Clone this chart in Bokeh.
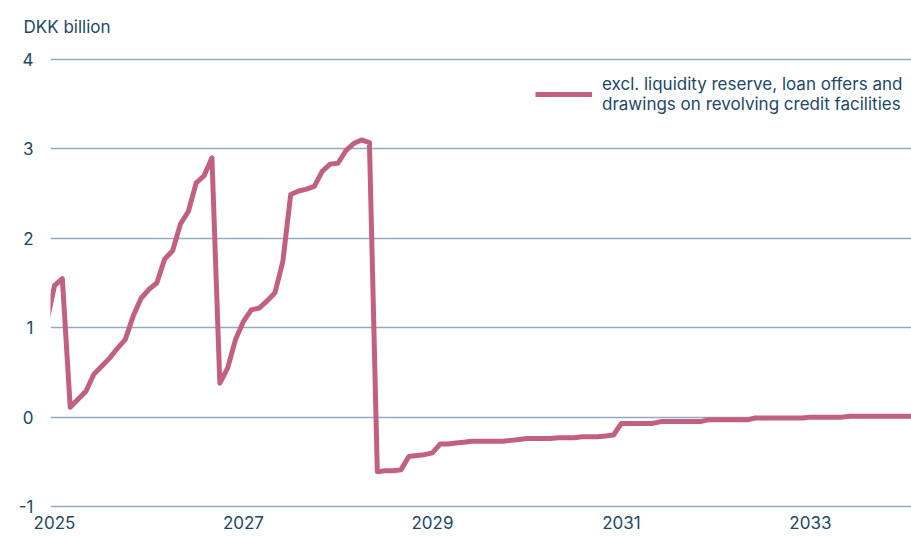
import pandas as pd
from bokeh.plotting import figure
from bokeh.models import Range1d, FixedTicker, Legend, LegendItem, ColumnDataSource
from bokeh.embed import file_html
from bokeh.resources import INLINE

# monthly series, Dec 2024 .. Feb 2034 (DKK billion)
start_month = "2024-12-01"
values = [
    1.05,
    1.47, 1.55, 0.11, 0.20, 0.29, 0.48, 0.57, 0.66, 0.77, 0.87, 1.13, 1.33,   # 2025
    1.43, 1.50, 1.77, 1.86, 2.16, 2.30, 2.62, 2.70, 2.90, 0.38, 0.55, 0.87,   # 2026
    1.07, 1.20, 1.22, 1.30, 1.39, 1.74, 2.49, 2.53, 2.55, 2.58, 2.75, 2.83,   # 2027
    2.84, 2.98, 3.06, 3.10, 3.07, -0.61, -0.60, -0.60, -0.59, -0.44, -0.43, -0.42,  # 2028
    -0.40, -0.30, -0.30, -0.29, -0.28, -0.27, -0.27, -0.27, -0.27, -0.27, -0.26, -0.25,  # 2029
    -0.24, -0.24, -0.24, -0.24, -0.23, -0.23, -0.23, -0.22, -0.22, -0.22, -0.21, -0.20,  # 2030
    -0.07, -0.07, -0.07, -0.07, -0.07, -0.05, -0.05, -0.05, -0.05, -0.05, -0.05, -0.03,  # 2031
    -0.03, -0.03, -0.03, -0.03, -0.03, -0.01, -0.01, -0.01, -0.01, -0.01, -0.01, -0.01,  # 2032
    0.00, 0.00, 0.00, 0.00, 0.00, 0.01, 0.01, 0.01, 0.01, 0.01, 0.01, 0.01,   # 2033
    0.01, 0.01,   # 2034
]
series_label = "excl. liquidity reserve, loan offers and\ndrawings on revolving credit facilities"
y_ticks = [-1, 0, 1, 2, 3, 4]
y_tick_labels = {-1: "-1", 0: "0", 1: "1", 2: "2", 3: "3", 4: "4"}
x_ticks = [2025, 2027, 2029, 2031, 2033]
unit_label = "DKK billion"

dates = pd.date_range(start_month, periods=len(values), freq="MS")
years = [d.year + (d.month - 1) / 12 for d in dates]
src = ColumnDataSource(dict(x=years, y=values))

TEXT = "#1d4866"
GRID = "#93aabd"
LINE = "#c2617f"
FONT = "Inter"

p = figure(width=911, height=536, output_backend="svg", toolbar_location=None,
           x_range=Range1d(2024.958, 2034.07), y_range=Range1d(-1.022, 4.045),
           min_border_left=50, min_border_right=0, min_border_top=55, min_border_bottom=28,
           title=unit_label)
p.outline_line_color = None
p.background_fill_color = "white"
p.border_fill_color = "white"

p.title.align = "left"
p.title.vertical_align = "top"
p.title.offset = -27
p.title.standoff = 33
p.title.text_font = FONT
p.title.text_font_size = "17px"
p.title.text_font_style = "normal"
p.title.text_color = TEXT

r = p.line("x", "y", source=src, line_color=LINE, line_width=5, line_join="round")

p.xaxis.ticker = FixedTicker(ticks=x_ticks)
p.yaxis.ticker = FixedTicker(ticks=y_ticks)
p.yaxis.major_label_overrides = y_tick_labels
for ax in (p.xaxis[0], p.yaxis[0]):
    ax.axis_line_color = None
    ax.major_tick_line_color = None
    ax.minor_tick_line_color = None
    ax.major_tick_out = 0
    ax.major_tick_in = 0
    ax.major_label_text_font = FONT
    ax.major_label_text_font_size = "17px"
    ax.major_label_text_color = TEXT
p.yaxis.major_label_standoff = 17
p.xaxis.major_label_standoff = 7
p.xgrid.grid_line_color = None
p.ygrid.grid_line_color = GRID
p.ygrid.grid_line_width = 1.3

legend = Legend(items=[LegendItem(label=series_label, renderers=[r])],
                location=(485, 394), padding=0, margin=0, spacing=0,
                glyph_width=57, glyph_height=20, label_standoff=10,
                label_text_font=FONT, label_text_font_size="17px", label_text_color=TEXT,
                border_line_color=None, background_fill_alpha=0)
p.add_layout(legend)

open("out.html", "w").write(file_html(p, INLINE))
